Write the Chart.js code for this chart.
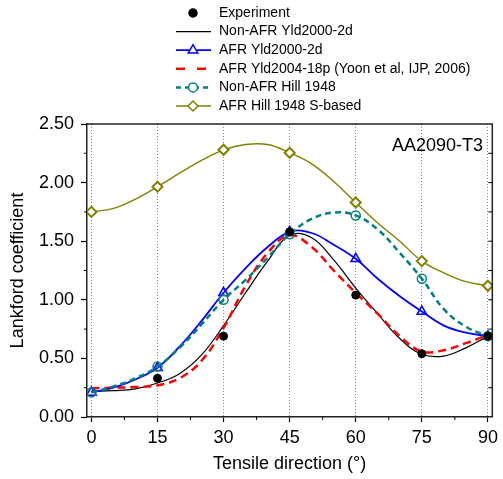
<!DOCTYPE html>
<html>
<head>
<meta charset="utf-8">
<title>Lankford coefficient AA2090-T3</title>
<script src="https://cdn.jsdelivr.net/npm/chart.js@4.4.1/dist/chart.umd.min.js"></script>
<style>
  html, body { margin: 0; padding: 0; background: #fff; }
  canvas { display: block; }
</style>
</head>
<body>
<canvas id="lankfordChart" width="503" height="479"></canvas>
<script>
// Tensile direction (deg) for the model curves, read every 5 degrees
const angles = [0, 5, 10, 15, 20, 25, 30, 35, 40, 45, 50, 55, 60, 65, 70, 75, 80, 85, 90];

// Measured values
const expAngles = [15, 30, 45, 60, 75, 90];
const expValues = [0.33, 0.69, 1.58, 1.04, 0.54, 0.69];

// Model curves
const nonAfrYld2000 = [0.22, 0.225, 0.24, 0.29, 0.37, 0.53, 0.78, 1.06, 1.33, 1.55, 1.53, 1.34, 1.10, 0.88, 0.67, 0.535, 0.52, 0.59, 0.69];
const afrYld2000 = [0.21, 0.25, 0.32, 0.42, 0.60, 0.82, 1.06, 1.27, 1.45, 1.58, 1.57, 1.47, 1.35, 1.18, 1.03, 0.90, 0.78, 0.72, 0.69];
const afrYld2004 = [0.245, 0.25, 0.255, 0.27, 0.33, 0.48, 0.76, 1.12, 1.40, 1.55, 1.45, 1.25, 1.06, 0.88, 0.69, 0.56, 0.57, 0.63, 0.70];
const nonAfrHill = [0.21, 0.26, 0.33, 0.43, 0.59, 0.79, 1.00, 1.17, 1.36, 1.56, 1.69, 1.745, 1.72, 1.60, 1.40, 1.18, 0.92, 0.77, 0.69];
const afrHillS = [1.75, 1.78, 1.86, 1.965, 2.08, 2.19, 2.28, 2.325, 2.325, 2.255, 2.16, 2.01, 1.83, 1.655, 1.50, 1.33, 1.23, 1.155, 1.12];

const xTicks = [0, 15, 30, 45, 60, 75, 90];
const yTicks = [0, 0.5, 1, 1.5, 2, 2.5];

const FONT = "'Liberation Sans', Arial, sans-serif";
Chart.defaults.font.family = FONT;
Chart.defaults.color = '#000';

function pairs(xs, ys) {
  return xs.map((x, i) => ({ x: x, y: ys[i] }));
}

// markers only every 15 degrees
function markerEvery15(r) {
  return ctx => (angles[ctx.dataIndex] % 15 === 0 ? r : 0);
}

function drawMarker(ctx, style, x, y, r, color, width, fill) {
  ctx.save();
  ctx.setLineDash([]);
  ctx.lineWidth = width;
  ctx.strokeStyle = color;
  ctx.fillStyle = fill;
  ctx.beginPath();
  if (style === 'circle') {
    ctx.arc(x, y, r, 0, Math.PI * 2);
  } else if (style === 'triangle') {
    for (let k = 0; k < 3; k++) {
      const a = k * 2 * Math.PI / 3;
      const px = x + Math.sin(a) * r;
      const py = y - Math.cos(a) * r;
      if (k === 0) ctx.moveTo(px, py); else ctx.lineTo(px, py);
    }
    ctx.closePath();
  } else if (style === 'rectRot') {
    ctx.moveTo(x, y - r);
    ctx.lineTo(x + r, y);
    ctx.lineTo(x, y + r);
    ctx.lineTo(x - r, y);
    ctx.closePath();
  }
  if (fill) ctx.fill();
  ctx.stroke();
  ctx.restore();
}

// Legend above the plot, one entry per row
const legendItems = [
  { text: 'Experiment', color: '#000', line: false, marker: 'circle', fill: '#000', r: 4 },
  { text: 'Non-AFR Yld2000-2d', color: '#000', line: true, width: 1.2, dash: [], marker: null },
  { text: 'AFR Yld2000-2d', color: '#0000ff', line: true, width: 1.8, dash: [], marker: 'triangle', r: 5.5 },
  { text: 'AFR Yld2004-18p (Yoon et al, IJP, 2006)', color: '#ff0000', line: true, width: 2.5, dash: [9, 12], marker: null },
  { text: 'Non-AFR Hill 1948', color: '#008080', line: true, width: 2.5, dash: [5, 4], marker: 'circle', r: 4.5 },
  { text: 'AFR Hill 1948 S-based', color: '#808000', line: true, width: 1.5, dash: [], marker: 'rectRot', r: 5 }
];

const legendPlugin = {
  id: 'customLegend',
  afterDraw(chart) {
    const ctx = chart.ctx;
    ctx.save();
    ctx.font = '14px ' + FONT;
    ctx.textBaseline = 'middle';
    ctx.fillStyle = '#000';
    legendItems.forEach((item, i) => {
      const y = 13 + i * 18.6;
      if (item.line) {
        ctx.save();
        ctx.strokeStyle = item.color;
        ctx.lineWidth = item.width;
        ctx.setLineDash(item.dash);
        ctx.beginPath();
        ctx.moveTo(176, y);
        ctx.lineTo(211, y);
        ctx.stroke();
        ctx.restore();
      }
      if (item.marker) {
        drawMarker(ctx, item.marker, 193, y, item.r, item.color, 1.5, item.fill || '#fff');
      }
      ctx.fillText(item.text, 219, y);
    });
    ctx.restore();
  }
};

// Frame, minor ticks and the alloy label
const framePlugin = {
  id: 'frame',
  afterDraw(chart) {
    const { ctx, chartArea: a } = chart;
    const xs = chart.scales.x, ys = chart.scales.y;
    ctx.save();
    ctx.strokeStyle = '#222';
    ctx.lineWidth = 1.5;
    ctx.beginPath();
    ctx.moveTo(a.left, a.top);
    ctx.lineTo(a.right, a.top);
    ctx.lineTo(a.right, a.bottom);
    ctx.stroke();

    ctx.lineWidth = 1;
    ctx.strokeStyle = '#000';
    ctx.beginPath();
    for (let v = 0.25; v < 2.5; v += 0.5) {
      const py = ys.getPixelForValue(v);
      ctx.moveTo(a.left - 3, py);
      ctx.lineTo(a.left, py);
    }
    for (let v = 0.25; v < 2.5; v += 0.25) {
      const py = ys.getPixelForValue(v);
      ctx.moveTo(a.right - 4, py);
      ctx.lineTo(a.right, py);
    }
    for (let v = 7.5; v < 90; v += 15) {
      const px = xs.getPixelForValue(v);
      ctx.moveTo(px, a.bottom);
      ctx.lineTo(px, a.bottom + 3);
    }
    ctx.stroke();

    ctx.font = '18px ' + FONT;
    ctx.fillStyle = '#000';
    ctx.textAlign = 'right';
    ctx.textBaseline = 'middle';
    ctx.fillText('AA2090-T3', 483, 146);
    ctx.restore();
  }
};

new Chart(document.getElementById('lankfordChart'), {
  type: 'line',
  data: {
    datasets: [
      {
        label: 'Experiment',
        data: pairs(expAngles, expValues),
        showLine: false,
        pointStyle: 'circle',
        pointRadius: 4,
        pointBackgroundColor: '#000',
        pointBorderColor: '#000',
        order: 0
      },
      {
        label: 'Non-AFR Yld2000-2d',
        data: pairs(angles, nonAfrYld2000),
        borderColor: '#000',
        borderWidth: 1.2,
        pointRadius: 0,
        tension: 0.4,
        order: 5
      },
      {
        label: 'AFR Yld2000-2d',
        data: pairs(angles, afrYld2000),
        borderColor: '#0000ff',
        borderWidth: 1.8,
        pointStyle: 'triangle',
        pointRadius: markerEvery15(5.5),
        pointBorderWidth: 1.5,
        pointBorderColor: '#0000ff',
        pointBackgroundColor: 'rgba(0,0,0,0)',
        tension: 0.4,
        order: 3
      },
      {
        label: 'AFR Yld2004-18p (Yoon et al, IJP, 2006)',
        data: pairs(angles, afrYld2004),
        borderColor: '#ff0000',
        borderWidth: 2.5,
        borderDash: [8, 5],
        pointRadius: 0,
        tension: 0.4,
        order: 4
      },
      {
        label: 'Non-AFR Hill 1948',
        data: pairs(angles, nonAfrHill),
        borderColor: '#008080',
        borderWidth: 2.5,
        borderDash: [6, 4],
        pointStyle: 'circle',
        pointRadius: markerEvery15(4.5),
        pointBorderWidth: 1.5,
        pointBorderColor: '#008080',
        pointBackgroundColor: 'rgba(0,0,0,0)',
        tension: 0.4,
        order: 2
      },
      {
        label: 'AFR Hill 1948 S-based',
        data: pairs(angles, afrHillS),
        borderColor: '#808000',
        borderWidth: 1.4,
        pointStyle: 'rectRot',
        pointRadius: markerEvery15(5),
        pointBorderWidth: 2,
        pointBorderColor: '#808000',
        pointBackgroundColor: '#fff',
        tension: 0.4,
        order: 1
      }
    ]
  },
  options: {
    responsive: false,
    animation: false,
    layout: { padding: { top: 124, right: 7, left: 0, bottom: 0 } },
    plugins: {
      legend: { display: false },
      tooltip: { enabled: false }
    },
    scales: {
      x: {
        type: 'linear',
        min: -1,
        max: 91,
        afterBuildTicks: s => { s.ticks = xTicks.map(v => ({ value: v })); },
        afterFit: s => { s.height = 62; },
        ticks: { font: { size: 18 }, padding: 5, maxRotation: 0, callback: v => v },
        grid: { color: '#888', lineWidth: 1, tickLength: 5, tickColor: '#000', tickWidth: 1.2 },
        border: { color: '#222', width: 1.5, dash: [1, 2] },
        title: { display: true, text: 'Tensile direction (°)', font: { size: 18 }, padding: { top: 0, bottom: 4 } }
      },
      y: {
        min: 0,
        max: 2.5,
        afterBuildTicks: s => { s.ticks = yTicks.map(v => ({ value: v })); },
        afterFit: s => { s.width = 87; },
        ticks: { font: { size: 18 }, padding: 7, callback: v => v.toFixed(2) },
        grid: { drawOnChartArea: false, tickLength: 6, tickColor: '#000', tickWidth: 1.2 },
        border: { color: '#222', width: 1.5 },
        title: { display: true, text: 'Lankford coefficient', font: { size: 18 }, padding: { top: 7, bottom: 0 } }
      }
    }
  },
  plugins: [legendPlugin, framePlugin]
});
</script>
</body>
</html>
